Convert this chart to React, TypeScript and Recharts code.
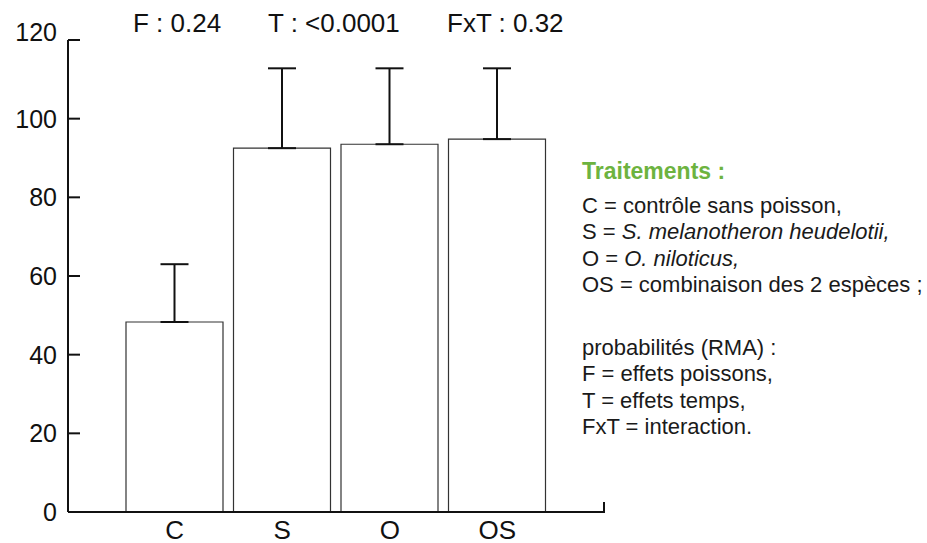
import * as R from "recharts";
import { BarChart, Bar, XAxis, YAxis, ErrorBar } from "recharts";

const treatments = ["C", "S", "O", "OS"];
const means = [48.3, 92.5, 93.5, 94.8];
const upperErrors = [14.7, 20.3, 19.3, 18.0];
const yTicks = [0, 20, 40, 60, 80, 100, 120];
const probabilities = ["F : 0.24", "T : <0.0001", "FxT : 0.32"];

const data = treatments.map((t, i) => ({
  name: t,
  value: means[i],
  err: [0, upperErrors[i]],
}));

const font = '"Liberation Sans", Arial, Helvetica, sans-serif';

// ticks point inward (to the right of the axis); the top label sits above its tick
const YTick = ({ x, y, payload }: any) => (
  <g>
    <line x1={x} x2={x + 12} y1={y} y2={y} stroke="#111" strokeWidth={2} />
    <text
      x={x - 11}
      y={y}
      dy={payload.value === 120 ? 1 : 9}
      textAnchor="end"
      fontSize={25}
      fill="#111"
      fontFamily={font}
    >
      {payload.value}
    </text>
  </g>
);

const XTick = ({ x, y, payload }: any) => (
  <text x={x} y={y} dy={25} textAnchor="middle" fontSize={26} fill="#111" fontFamily={font}>
    {payload.value}
  </text>
);

// small upward tick closing the x axis on the right, placed from the plot area
function EndTick() {
  const usePlot = (R as any).usePlotArea;
  const area = usePlot ? usePlot() : null;
  if (!area) return null;
  const x = area.x + area.width;
  const y = area.y + area.height;
  return <line x1={x} x2={x} y1={y - 10} y2={y + 1} stroke="#111" strokeWidth={2} />;
}

export default function App() {
  return (
    <div style={{ position: "absolute", left: 0, top: 0, width: 927, height: 543, background: "#fff", fontFamily: font }}>
      <BarChart
        width={927}
        height={543}
        data={data}
        margin={{ top: 40, right: 323, left: 0, bottom: 0 }}
        barSize={97}
      >
        <XAxis
          dataKey="name"
          height={31}
          padding={{ left: 53, right: 53 }}
          axisLine={{ stroke: "#111", strokeWidth: 2 }}
          tickLine={false}
          tickSize={0}
          tick={<XTick />}
        />
        <YAxis
          width={68}
          domain={[0, 120]}
          ticks={yTicks}
          axisLine={{ stroke: "#111", strokeWidth: 2 }}
          tickLine={false}
          tickSize={0}
          tickMargin={0}
          tick={<YTick />}
        />
        <Bar dataKey="value" fill="#fff" stroke="#333" strokeWidth={1.2} isAnimationActive={false}>
          <ErrorBar dataKey="err" direction="y" width={14} stroke="#111" strokeWidth={2} />
        </Bar>
        <EndTick />
      </BarChart>

      <div style={{ position: "absolute", left: 133, top: 10, fontSize: 26, lineHeight: "26px", color: "#111" }}>{probabilities[0]}</div>
      <div style={{ position: "absolute", left: 268, top: 10, fontSize: 26, lineHeight: "26px", color: "#111" }}>{probabilities[1]}</div>
      <div style={{ position: "absolute", left: 447, top: 10, fontSize: 26, lineHeight: "26px", color: "#111" }}>{probabilities[2]}</div>

      <div style={{ position: "absolute", left: 582, top: 158, fontSize: 22, lineHeight: "26.5px", color: "#1a1a1a" }}>
        <div style={{ color: "#6db33f", fontWeight: "bold", fontSize: 23, marginBottom: 8 }}>Traitements :</div>
        <div>C = contrôle sans poisson,</div>
        <div>S = <i>S. melanotheron heudelotii,</i></div>
        <div>O = <i>O. niloticus,</i></div>
        <div>OS = combinaison des 2 espèces ;</div>
        <div style={{ height: 36 }} />
        <div>probabilités (RMA) :</div>
        <div>F = effets poissons,</div>
        <div>T = effets temps,</div>
        <div>FxT = interaction.</div>
      </div>
    </div>
  );
}
